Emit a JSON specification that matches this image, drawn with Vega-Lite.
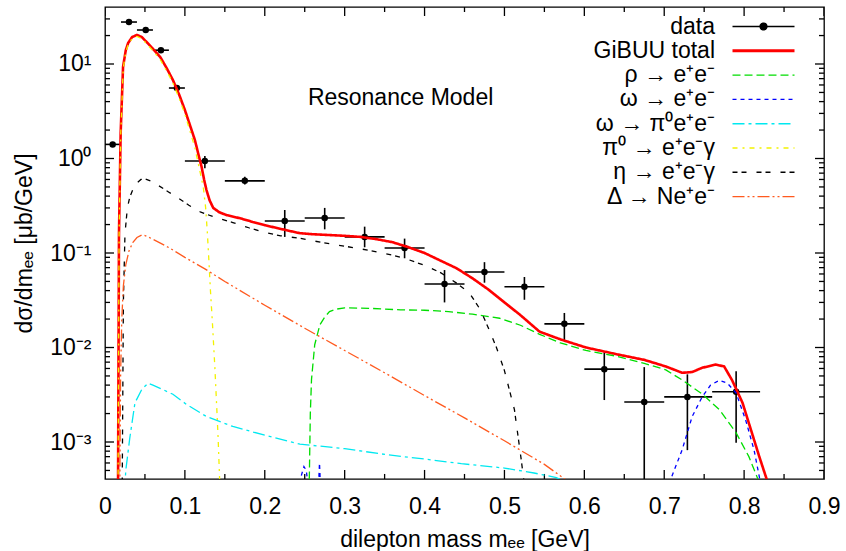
{
  "$schema": "https://vega.github.io/schema/vega-lite/v6.json",
  "width": 719,
  "height": 472,
  "autosize": "none",
  "padding": {"left": 105, "top": 7, "right": 22, "bottom": 72},
  "background": "white",
  "config": {
    "font": "Liberation Sans",
    "view": {"stroke": "black", "strokeWidth": 1.3},
    "axis": {"domain": false, "grid": false, "ticks": false, "labelColor": "black", "titleColor": "black", "labelFont": "Liberation Sans", "titleFont": "Liberation Sans", "labelFontSize": 23, "titleFontSize": 23, "titleFontWeight": "normal", "labelOverlap": false, "labelFlush": false, "labelBound": false}
  },
  "resolve": {"axis": {"x": "independent", "y": "independent"}},
  "datasets": {
    "xticks": [
      {"t": 0, "major": true}, {"t": 0.05, "major": false}, {"t": 0.1, "major": true}, {"t": 0.15, "major": false},
      {"t": 0.2, "major": true}, {"t": 0.25, "major": false}, {"t": 0.3, "major": true}, {"t": 0.35, "major": false},
      {"t": 0.4, "major": true}, {"t": 0.45, "major": false}, {"t": 0.5, "major": true}, {"t": 0.55, "major": false},
      {"t": 0.6, "major": true}, {"t": 0.65, "major": false}, {"t": 0.7, "major": true}, {"t": 0.75, "major": false},
      {"t": 0.8, "major": true}, {"t": 0.85, "major": false}, {"t": 0.9, "major": true}
    ],
    "yticks": [
      {"t": 0.0005, "major": false}, {"t": 0.0006, "major": false}, {"t": 0.0007, "major": false}, {"t": 0.0008, "major": false}, {"t": 0.0009, "major": false},
      {"t": 0.001, "major": true},
      {"t": 0.002, "major": false}, {"t": 0.003, "major": false}, {"t": 0.004, "major": false}, {"t": 0.005, "major": false}, {"t": 0.006, "major": false}, {"t": 0.007, "major": false}, {"t": 0.008, "major": false}, {"t": 0.009, "major": false},
      {"t": 0.01, "major": true},
      {"t": 0.02, "major": false}, {"t": 0.03, "major": false}, {"t": 0.04, "major": false}, {"t": 0.05, "major": false}, {"t": 0.06, "major": false}, {"t": 0.07, "major": false}, {"t": 0.08, "major": false}, {"t": 0.09, "major": false},
      {"t": 0.1, "major": true},
      {"t": 0.2, "major": false}, {"t": 0.3, "major": false}, {"t": 0.4, "major": false}, {"t": 0.5, "major": false}, {"t": 0.6, "major": false}, {"t": 0.7, "major": false}, {"t": 0.8, "major": false}, {"t": 0.9, "major": false},
      {"t": 1, "major": true},
      {"t": 2, "major": false}, {"t": 3, "major": false}, {"t": 4, "major": false}, {"t": 5, "major": false}, {"t": 6, "major": false}, {"t": 7, "major": false}, {"t": 8, "major": false}, {"t": 9, "major": false},
      {"t": 10, "major": true},
      {"t": 20, "major": false}, {"t": 30, "major": false}
    ],
    "lines": [
      {"series": "GiBUU total", "mass": 0.0163, "xsec": 0.0003},
      {"series": "GiBUU total", "mass": 0.0175, "xsec": 0.16},
      {"series": "GiBUU total", "mass": 0.0196, "xsec": 1.86},
      {"series": "GiBUU total", "mass": 0.0226, "xsec": 9.3},
      {"series": "GiBUU total", "mass": 0.026, "xsec": 14},
      {"series": "GiBUU total", "mass": 0.029, "xsec": 16.7},
      {"series": "GiBUU total", "mass": 0.034, "xsec": 19.3},
      {"series": "GiBUU total", "mass": 0.04, "xsec": 20.3},
      {"series": "GiBUU total", "mass": 0.046, "xsec": 19.3},
      {"series": "GiBUU total", "mass": 0.052, "xsec": 17.1},
      {"series": "GiBUU total", "mass": 0.06, "xsec": 14.5},
      {"series": "GiBUU total", "mass": 0.069, "xsec": 11.9},
      {"series": "GiBUU total", "mass": 0.077, "xsec": 9.1},
      {"series": "GiBUU total", "mass": 0.085, "xsec": 6.77},
      {"series": "GiBUU total", "mass": 0.093, "xsec": 4.7},
      {"series": "GiBUU total", "mass": 0.1, "xsec": 3.26},
      {"series": "GiBUU total", "mass": 0.106, "xsec": 2.3},
      {"series": "GiBUU total", "mass": 0.1125, "xsec": 1.57},
      {"series": "GiBUU total", "mass": 0.117, "xsec": 1.1},
      {"series": "GiBUU total", "mass": 0.121, "xsec": 0.81},
      {"series": "GiBUU total", "mass": 0.124, "xsec": 0.6},
      {"series": "GiBUU total", "mass": 0.127, "xsec": 0.464},
      {"series": "GiBUU total", "mass": 0.131, "xsec": 0.36},
      {"series": "GiBUU total", "mass": 0.1355, "xsec": 0.3},
      {"series": "GiBUU total", "mass": 0.143, "xsec": 0.27},
      {"series": "GiBUU total", "mass": 0.152, "xsec": 0.252},
      {"series": "GiBUU total", "mass": 0.17, "xsec": 0.232},
      {"series": "GiBUU total", "mass": 0.185, "xsec": 0.213},
      {"series": "GiBUU total", "mass": 0.2, "xsec": 0.197},
      {"series": "GiBUU total", "mass": 0.215, "xsec": 0.184},
      {"series": "GiBUU total", "mass": 0.23, "xsec": 0.172},
      {"series": "GiBUU total", "mass": 0.244, "xsec": 0.162},
      {"series": "GiBUU total", "mass": 0.26, "xsec": 0.158},
      {"series": "GiBUU total", "mass": 0.28, "xsec": 0.155},
      {"series": "GiBUU total", "mass": 0.3, "xsec": 0.152},
      {"series": "GiBUU total", "mass": 0.32, "xsec": 0.148},
      {"series": "GiBUU total", "mass": 0.34, "xsec": 0.14},
      {"series": "GiBUU total", "mass": 0.36, "xsec": 0.13},
      {"series": "GiBUU total", "mass": 0.38, "xsec": 0.115},
      {"series": "GiBUU total", "mass": 0.4, "xsec": 0.1},
      {"series": "GiBUU total", "mass": 0.42, "xsec": 0.083},
      {"series": "GiBUU total", "mass": 0.44, "xsec": 0.069},
      {"series": "GiBUU total", "mass": 0.46, "xsec": 0.054},
      {"series": "GiBUU total", "mass": 0.48, "xsec": 0.041},
      {"series": "GiBUU total", "mass": 0.5, "xsec": 0.03},
      {"series": "GiBUU total", "mass": 0.52, "xsec": 0.022},
      {"series": "GiBUU total", "mass": 0.544, "xsec": 0.0147},
      {"series": "GiBUU total", "mass": 0.57, "xsec": 0.0122},
      {"series": "GiBUU total", "mass": 0.602, "xsec": 0.01},
      {"series": "GiBUU total", "mass": 0.64, "xsec": 0.0085},
      {"series": "GiBUU total", "mass": 0.675, "xsec": 0.0074},
      {"series": "GiBUU total", "mass": 0.702, "xsec": 0.0063},
      {"series": "GiBUU total", "mass": 0.7225, "xsec": 0.0054},
      {"series": "GiBUU total", "mass": 0.735, "xsec": 0.0055},
      {"series": "GiBUU total", "mass": 0.7475, "xsec": 0.0061},
      {"series": "GiBUU total", "mass": 0.7645, "xsec": 0.0066},
      {"series": "GiBUU total", "mass": 0.775, "xsec": 0.0063},
      {"series": "GiBUU total", "mass": 0.785, "xsec": 0.0045},
      {"series": "GiBUU total", "mass": 0.798, "xsec": 0.0026},
      {"series": "GiBUU total", "mass": 0.81, "xsec": 0.00123},
      {"series": "GiBUU total", "mass": 0.819, "xsec": 0.0007},
      {"series": "GiBUU total", "mass": 0.828, "xsec": 0.00041},
      {"series": "GiBUU total", "mass": 0.832, "xsec": 0.0003},

      {"series": "ρ → e⁺e⁻", "mass": 0.2555, "xsec": 0.0003},
      {"series": "ρ → e⁺e⁻", "mass": 0.257, "xsec": 0.002},
      {"series": "ρ → e⁺e⁻", "mass": 0.2585, "xsec": 0.0046},
      {"series": "ρ → e⁺e⁻", "mass": 0.2625, "xsec": 0.0107},
      {"series": "ρ → e⁺e⁻", "mass": 0.269, "xsec": 0.0174},
      {"series": "ρ → e⁺e⁻", "mass": 0.275, "xsec": 0.021},
      {"series": "ρ → e⁺e⁻", "mass": 0.281, "xsec": 0.024},
      {"series": "ρ → e⁺e⁻", "mass": 0.29, "xsec": 0.0255},
      {"series": "ρ → e⁺e⁻", "mass": 0.3, "xsec": 0.0263},
      {"series": "ρ → e⁺e⁻", "mass": 0.33, "xsec": 0.026},
      {"series": "ρ → e⁺e⁻", "mass": 0.37, "xsec": 0.025},
      {"series": "ρ → e⁺e⁻", "mass": 0.4, "xsec": 0.0248},
      {"series": "ρ → e⁺e⁻", "mass": 0.43, "xsec": 0.024},
      {"series": "ρ → e⁺e⁻", "mass": 0.46, "xsec": 0.0225},
      {"series": "ρ → e⁺e⁻", "mass": 0.494, "xsec": 0.0204},
      {"series": "ρ → e⁺e⁻", "mass": 0.52, "xsec": 0.0172},
      {"series": "ρ → e⁺e⁻", "mass": 0.544, "xsec": 0.0138},
      {"series": "ρ → e⁺e⁻", "mass": 0.57, "xsec": 0.0112},
      {"series": "ρ → e⁺e⁻", "mass": 0.602, "xsec": 0.0093},
      {"series": "ρ → e⁺e⁻", "mass": 0.64, "xsec": 0.0081},
      {"series": "ρ → e⁺e⁻", "mass": 0.675, "xsec": 0.0068},
      {"series": "ρ → e⁺e⁻", "mass": 0.702, "xsec": 0.0058},
      {"series": "ρ → e⁺e⁻", "mass": 0.723, "xsec": 0.0045},
      {"series": "ρ → e⁺e⁻", "mass": 0.748, "xsec": 0.0032},
      {"series": "ρ → e⁺e⁻", "mass": 0.769, "xsec": 0.0022},
      {"series": "ρ → e⁺e⁻", "mass": 0.79, "xsec": 0.00125},
      {"series": "ρ → e⁺e⁻", "mass": 0.806, "xsec": 0.0007},
      {"series": "ρ → e⁺e⁻", "mass": 0.817, "xsec": 0.00041},
      {"series": "ρ → e⁺e⁻", "mass": 0.82, "xsec": 0.0003},

      {"series": "ω → e⁺e⁻", "mass": 0.243, "xsec": 0.0003},
      {"series": "ω → e⁺e⁻", "mass": 0.246, "xsec": 0.00045},
      {"series": "ω → e⁺e⁻", "mass": 0.249, "xsec": 0.00055},
      {"series": "ω → e⁺e⁻", "mass": 0.252, "xsec": 0.0005},
      {"series": "ω → e⁺e⁻", "mass": 0.255, "xsec": 0.0003},
      {"series": "ω → e⁺e⁻", "mass": 0.26, "xsec": 0.0001},
      {"series": "ω → e⁺e⁻", "mass": 0.265, "xsec": 0.0001},
      {"series": "ω → e⁺e⁻", "mass": 0.267, "xsec": 0.0003},
      {"series": "ω → e⁺e⁻", "mass": 0.2685, "xsec": 0.0006},
      {"series": "ω → e⁺e⁻", "mass": 0.27, "xsec": 0.0003},
      {"series": "ω → e⁺e⁻", "mass": 0.275, "xsec": 0.0001},
      {"series": "ω → e⁺e⁻", "mass": 0.7, "xsec": 0.0001},
      {"series": "ω → e⁺e⁻", "mass": 0.708, "xsec": 0.0004},
      {"series": "ω → e⁺e⁻", "mass": 0.7225, "xsec": 0.00083},
      {"series": "ω → e⁺e⁻", "mass": 0.735, "xsec": 0.00186},
      {"series": "ω → e⁺e⁻", "mass": 0.7475, "xsec": 0.003},
      {"series": "ω → e⁺e⁻", "mass": 0.758, "xsec": 0.004},
      {"series": "ω → e⁺e⁻", "mass": 0.769, "xsec": 0.0045},
      {"series": "ω → e⁺e⁻", "mass": 0.779, "xsec": 0.0042},
      {"series": "ω → e⁺e⁻", "mass": 0.79, "xsec": 0.0033},
      {"series": "ω → e⁺e⁻", "mass": 0.802, "xsec": 0.0017},
      {"series": "ω → e⁺e⁻", "mass": 0.8125, "xsec": 0.00082},
      {"series": "ω → e⁺e⁻", "mass": 0.819, "xsec": 0.00043},
      {"series": "ω → e⁺e⁻", "mass": 0.822, "xsec": 0.0003},

      {"series": "ω → π⁰e⁺e⁻", "mass": 0.0245, "xsec": 0.0003},
      {"series": "ω → π⁰e⁺e⁻", "mass": 0.026, "xsec": 0.0005},
      {"series": "ω → π⁰e⁺e⁻", "mass": 0.031, "xsec": 0.0011},
      {"series": "ω → π⁰e⁺e⁻", "mass": 0.0375, "xsec": 0.0026},
      {"series": "ω → π⁰e⁺e⁻", "mass": 0.046, "xsec": 0.0036},
      {"series": "ω → π⁰e⁺e⁻", "mass": 0.054, "xsec": 0.0042},
      {"series": "ω → π⁰e⁺e⁻", "mass": 0.06, "xsec": 0.004},
      {"series": "ω → π⁰e⁺e⁻", "mass": 0.069, "xsec": 0.0037},
      {"series": "ω → π⁰e⁺e⁻", "mass": 0.085, "xsec": 0.0032},
      {"series": "ω → π⁰e⁺e⁻", "mass": 0.102, "xsec": 0.0025},
      {"series": "ω → π⁰e⁺e⁻", "mass": 0.127, "xsec": 0.00186},
      {"series": "ω → π⁰e⁺e⁻", "mass": 0.16, "xsec": 0.00146},
      {"series": "ω → π⁰e⁺e⁻", "mass": 0.2, "xsec": 0.00118},
      {"series": "ω → π⁰e⁺e⁻", "mass": 0.244, "xsec": 0.00095},
      {"series": "ω → π⁰e⁺e⁻", "mass": 0.3, "xsec": 0.00085},
      {"series": "ω → π⁰e⁺e⁻", "mass": 0.355, "xsec": 0.00073},
      {"series": "ω → π⁰e⁺e⁻", "mass": 0.4, "xsec": 0.00066},
      {"series": "ω → π⁰e⁺e⁻", "mass": 0.446, "xsec": 0.00059},
      {"series": "ω → π⁰e⁺e⁻", "mass": 0.5, "xsec": 0.00053},
      {"series": "ω → π⁰e⁺e⁻", "mass": 0.537, "xsec": 0.00047},
      {"series": "ω → π⁰e⁺e⁻", "mass": 0.565, "xsec": 0.00042},
      {"series": "ω → π⁰e⁺e⁻", "mass": 0.585, "xsec": 0.00035},

      {"series": "π⁰ → e⁺e⁻γ", "mass": 0.0163, "xsec": 0.0003},
      {"series": "π⁰ → e⁺e⁻γ", "mass": 0.0176, "xsec": 0.15},
      {"series": "π⁰ → e⁺e⁻γ", "mass": 0.0197, "xsec": 1.8},
      {"series": "π⁰ → e⁺e⁻γ", "mass": 0.0228, "xsec": 9},
      {"series": "π⁰ → e⁺e⁻γ", "mass": 0.026, "xsec": 13.3},
      {"series": "π⁰ → e⁺e⁻γ", "mass": 0.029, "xsec": 16},
      {"series": "π⁰ → e⁺e⁻γ", "mass": 0.034, "xsec": 18.6},
      {"series": "π⁰ → e⁺e⁻γ", "mass": 0.04, "xsec": 19.6},
      {"series": "π⁰ → e⁺e⁻γ", "mass": 0.046, "xsec": 18.6},
      {"series": "π⁰ → e⁺e⁻γ", "mass": 0.052, "xsec": 16.4},
      {"series": "π⁰ → e⁺e⁻γ", "mass": 0.06, "xsec": 13.8},
      {"series": "π⁰ → e⁺e⁻γ", "mass": 0.069, "xsec": 11.2},
      {"series": "π⁰ → e⁺e⁻γ", "mass": 0.077, "xsec": 8.5},
      {"series": "π⁰ → e⁺e⁻γ", "mass": 0.085, "xsec": 6.3},
      {"series": "π⁰ → e⁺e⁻γ", "mass": 0.093, "xsec": 4.3},
      {"series": "π⁰ → e⁺e⁻γ", "mass": 0.1, "xsec": 2.95},
      {"series": "π⁰ → e⁺e⁻γ", "mass": 0.106, "xsec": 2.0},
      {"series": "π⁰ → e⁺e⁻γ", "mass": 0.1125, "xsec": 1.3},
      {"series": "π⁰ → e⁺e⁻γ", "mass": 0.119, "xsec": 0.72},
      {"series": "π⁰ → e⁺e⁻γ", "mass": 0.123, "xsec": 0.5},
      {"series": "π⁰ → e⁺e⁻γ", "mass": 0.126, "xsec": 0.3},
      {"series": "π⁰ → e⁺e⁻γ", "mass": 0.128, "xsec": 0.17},
      {"series": "π⁰ → e⁺e⁻γ", "mass": 0.13, "xsec": 0.085},
      {"series": "π⁰ → e⁺e⁻γ", "mass": 0.132, "xsec": 0.04},
      {"series": "π⁰ → e⁺e⁻γ", "mass": 0.1345, "xsec": 0.018},
      {"series": "π⁰ → e⁺e⁻γ", "mass": 0.1375, "xsec": 0.0062},
      {"series": "π⁰ → e⁺e⁻γ", "mass": 0.14, "xsec": 0.0022},
      {"series": "π⁰ → e⁺e⁻γ", "mass": 0.1416, "xsec": 0.0011},
      {"series": "π⁰ → e⁺e⁻γ", "mass": 0.1435, "xsec": 0.0004},
      {"series": "π⁰ → e⁺e⁻γ", "mass": 0.145, "xsec": 0.0002},

      {"series": "η → e⁺e⁻γ", "mass": 0.0215, "xsec": 0.0003},
      {"series": "η → e⁺e⁻γ", "mass": 0.023, "xsec": 0.03},
      {"series": "η → e⁺e⁻γ", "mass": 0.025, "xsec": 0.16},
      {"series": "η → e⁺e⁻γ", "mass": 0.028, "xsec": 0.3},
      {"series": "η → e⁺e⁻γ", "mass": 0.031, "xsec": 0.39},
      {"series": "η → e⁺e⁻γ", "mass": 0.0375, "xsec": 0.53},
      {"series": "η → e⁺e⁻γ", "mass": 0.045, "xsec": 0.6},
      {"series": "η → e⁺e⁻γ", "mass": 0.05, "xsec": 0.61},
      {"series": "η → e⁺e⁻γ", "mass": 0.057, "xsec": 0.58},
      {"series": "η → e⁺e⁻γ", "mass": 0.065, "xsec": 0.53},
      {"series": "η → e⁺e⁻γ", "mass": 0.08, "xsec": 0.44},
      {"series": "η → e⁺e⁻γ", "mass": 0.09, "xsec": 0.39},
      {"series": "η → e⁺e⁻γ", "mass": 0.105, "xsec": 0.32},
      {"series": "η → e⁺e⁻γ", "mass": 0.12, "xsec": 0.27},
      {"series": "η → e⁺e⁻γ", "mass": 0.14, "xsec": 0.235},
      {"series": "η → e⁺e⁻γ", "mass": 0.16, "xsec": 0.21},
      {"series": "η → e⁺e⁻γ", "mass": 0.18, "xsec": 0.185},
      {"series": "η → e⁺e⁻γ", "mass": 0.2, "xsec": 0.165},
      {"series": "η → e⁺e⁻γ", "mass": 0.22, "xsec": 0.152},
      {"series": "η → e⁺e⁻γ", "mass": 0.244, "xsec": 0.143},
      {"series": "η → e⁺e⁻γ", "mass": 0.27, "xsec": 0.13},
      {"series": "η → e⁺e⁻γ", "mass": 0.3, "xsec": 0.118},
      {"series": "η → e⁺e⁻γ", "mass": 0.33, "xsec": 0.107},
      {"series": "η → e⁺e⁻γ", "mass": 0.36, "xsec": 0.095},
      {"series": "η → e⁺e⁻γ", "mass": 0.38, "xsec": 0.085},
      {"series": "η → e⁺e⁻γ", "mass": 0.4, "xsec": 0.074},
      {"series": "η → e⁺e⁻γ", "mass": 0.42, "xsec": 0.062},
      {"series": "η → e⁺e⁻γ", "mass": 0.44, "xsec": 0.048},
      {"series": "η → e⁺e⁻γ", "mass": 0.456, "xsec": 0.038},
      {"series": "η → e⁺e⁻γ", "mass": 0.47, "xsec": 0.025},
      {"series": "η → e⁺e⁻γ", "mass": 0.481, "xsec": 0.0153},
      {"series": "η → e⁺e⁻γ", "mass": 0.49, "xsec": 0.01},
      {"series": "η → e⁺e⁻γ", "mass": 0.5, "xsec": 0.0057},
      {"series": "η → e⁺e⁻γ", "mass": 0.5125, "xsec": 0.0022},
      {"series": "η → e⁺e⁻γ", "mass": 0.521, "xsec": 0.00065},
      {"series": "η → e⁺e⁻γ", "mass": 0.526, "xsec": 0.0003},

      {"series": "Δ → Ne⁺e⁻", "mass": 0.0185, "xsec": 0.0003},
      {"series": "Δ → Ne⁺e⁻", "mass": 0.0195, "xsec": 0.005},
      {"series": "Δ → Ne⁺e⁻", "mass": 0.021, "xsec": 0.02},
      {"series": "Δ → Ne⁺e⁻", "mass": 0.023, "xsec": 0.045},
      {"series": "Δ → Ne⁺e⁻", "mass": 0.026, "xsec": 0.075},
      {"series": "Δ → Ne⁺e⁻", "mass": 0.03, "xsec": 0.105},
      {"series": "Δ → Ne⁺e⁻", "mass": 0.035, "xsec": 0.13},
      {"series": "Δ → Ne⁺e⁻", "mass": 0.04, "xsec": 0.146},
      {"series": "Δ → Ne⁺e⁻", "mass": 0.046, "xsec": 0.155},
      {"series": "Δ → Ne⁺e⁻", "mass": 0.05, "xsec": 0.153},
      {"series": "Δ → Ne⁺e⁻", "mass": 0.06, "xsec": 0.14},
      {"series": "Δ → Ne⁺e⁻", "mass": 0.08, "xsec": 0.114},
      {"series": "Δ → Ne⁺e⁻", "mass": 0.1, "xsec": 0.09},
      {"series": "Δ → Ne⁺e⁻", "mass": 0.125, "xsec": 0.068},
      {"series": "Δ → Ne⁺e⁻", "mass": 0.15, "xsec": 0.05},
      {"series": "Δ → Ne⁺e⁻", "mass": 0.2, "xsec": 0.028},
      {"series": "Δ → Ne⁺e⁻", "mass": 0.25, "xsec": 0.016},
      {"series": "Δ → Ne⁺e⁻", "mass": 0.3, "xsec": 0.0093},
      {"series": "Δ → Ne⁺e⁻", "mass": 0.35, "xsec": 0.0054},
      {"series": "Δ → Ne⁺e⁻", "mass": 0.4, "xsec": 0.0031},
      {"series": "Δ → Ne⁺e⁻", "mass": 0.45, "xsec": 0.0018},
      {"series": "Δ → Ne⁺e⁻", "mass": 0.5, "xsec": 0.00103},
      {"series": "Δ → Ne⁺e⁻", "mass": 0.55, "xsec": 0.00058},
      {"series": "Δ → Ne⁺e⁻", "mass": 0.58, "xsec": 0.00038}
    ],
    "pts": [
      {"mass": 0.0096, "xlo": 0, "xhi": 0.02, "xsec": 1.41, "lo": 1.36, "hi": 1.46},
      {"mass": 0.03, "xlo": 0.02, "xhi": 0.04, "xsec": 27.8, "lo": 26.9, "hi": 28.7},
      {"mass": 0.051, "xlo": 0.04, "xhi": 0.06, "xsec": 22.9, "lo": 22.2, "hi": 23.6},
      {"mass": 0.07, "xlo": 0.06, "xhi": 0.08, "xsec": 14.0, "lo": 13.6, "hi": 14.4},
      {"mass": 0.09, "xlo": 0.08, "xhi": 0.1, "xsec": 5.57, "lo": 5.4, "hi": 5.75},
      {"mass": 0.125, "xlo": 0.1, "xhi": 0.15, "xsec": 0.94, "lo": 0.79, "hi": 1.06},
      {"mass": 0.175, "xlo": 0.15, "xhi": 0.2, "xsec": 0.58, "lo": 0.53, "hi": 0.64},
      {"mass": 0.225, "xlo": 0.2, "xhi": 0.25, "xsec": 0.218, "lo": 0.148, "hi": 0.285},
      {"mass": 0.275, "xlo": 0.25, "xhi": 0.3, "xsec": 0.235, "lo": 0.178, "hi": 0.3},
      {"mass": 0.325, "xlo": 0.3, "xhi": 0.35, "xsec": 0.148, "lo": 0.115, "hi": 0.19},
      {"mass": 0.375, "xlo": 0.35, "xhi": 0.4, "xsec": 0.113, "lo": 0.088, "hi": 0.142},
      {"mass": 0.425, "xlo": 0.4, "xhi": 0.45, "xsec": 0.047, "lo": 0.03, "hi": 0.066},
      {"mass": 0.475, "xlo": 0.45, "xhi": 0.5, "xsec": 0.063, "lo": 0.0485, "hi": 0.08},
      {"mass": 0.525, "xlo": 0.5, "xhi": 0.55, "xsec": 0.044, "lo": 0.032, "hi": 0.0557},
      {"mass": 0.575, "xlo": 0.55, "xhi": 0.6, "xsec": 0.0178, "lo": 0.012, "hi": 0.0232},
      {"mass": 0.625, "xlo": 0.6, "xhi": 0.65, "xsec": 0.0059, "lo": 0.00278, "hi": 0.0089},
      {"mass": 0.675, "xlo": 0.65, "xhi": 0.7, "xsec": 0.00265, "lo": 0.0001, "hi": 0.0062},
      {"mass": 0.729, "xlo": 0.7, "xhi": 0.76, "xsec": 0.003, "lo": 0.00082, "hi": 0.0052},
      {"mass": 0.79, "xlo": 0.76, "xhi": 0.82, "xsec": 0.0034, "lo": 0.00098, "hi": 0.0056}
    ]
  },
  "layer": [
    {
      "data": {"name": "xticks"},
      "transform": [{"filter": "datum.major"}],
      "mark": {"type": "rule", "color": "black", "strokeWidth": 1.3, "clip": true},
      "encoding": {
        "x": {"field": "t", "type": "quantitative", "scale": {"domain": [0, 0.9], "nice": false, "zero": false}, "axis": null},
        "y": {"datum": 0.000406, "type": "quantitative", "scale": {"type": "log", "domain": [0.000406, 40.1], "nice": false}, "axis": null},
        "y2": {"datum": 0.000506}
      }
    },
    {
      "data": {"name": "xticks"},
      "transform": [{"filter": "!datum.major"}],
      "mark": {"type": "rule", "color": "black", "strokeWidth": 1.3, "clip": true},
      "encoding": {
        "x": {"field": "t", "type": "quantitative", "scale": {"domain": [0, 0.9], "nice": false, "zero": false}, "axis": null},
        "y": {"datum": 0.000406, "type": "quantitative", "scale": {"type": "log", "domain": [0.000406, 40.1], "nice": false}, "axis": null},
        "y2": {"datum": 0.000459}
      }
    },
    {
      "data": {"name": "xticks"},
      "transform": [{"filter": "datum.major"}],
      "mark": {"type": "rule", "color": "black", "strokeWidth": 1.3, "clip": true},
      "encoding": {
        "x": {"field": "t", "type": "quantitative", "scale": {"domain": [0, 0.9], "nice": false, "zero": false}, "axis": null},
        "y": {"datum": 40.1, "type": "quantitative", "scale": {"type": "log", "domain": [0.000406, 40.1], "nice": false}, "axis": null},
        "y2": {"datum": 32.2}
      }
    },
    {
      "data": {"name": "xticks"},
      "transform": [{"filter": "!datum.major"}],
      "mark": {"type": "rule", "color": "black", "strokeWidth": 1.3, "clip": true},
      "encoding": {
        "x": {"field": "t", "type": "quantitative", "scale": {"domain": [0, 0.9], "nice": false, "zero": false}, "axis": null},
        "y": {"datum": 40.1, "type": "quantitative", "scale": {"type": "log", "domain": [0.000406, 40.1], "nice": false}, "axis": null},
        "y2": {"datum": 35.5}
      }
    },
    {
      "data": {"name": "yticks"},
      "transform": [{"filter": "datum.major"}],
      "mark": {"type": "rule", "color": "black", "strokeWidth": 1.3, "clip": true},
      "encoding": {
        "y": {"field": "t", "type": "quantitative", "scale": {"type": "log", "domain": [0.000406, 40.1], "nice": false}, "axis": null},
        "x": {"datum": 0, "type": "quantitative", "scale": {"domain": [0, 0.9], "nice": false, "zero": false}, "axis": null},
        "x2": {"datum": 0.01127}
      }
    },
    {
      "data": {"name": "yticks"},
      "transform": [{"filter": "!datum.major"}],
      "mark": {"type": "rule", "color": "black", "strokeWidth": 1.3, "clip": true},
      "encoding": {
        "y": {"field": "t", "type": "quantitative", "scale": {"type": "log", "domain": [0.000406, 40.1], "nice": false}, "axis": null},
        "x": {"datum": 0, "type": "quantitative", "scale": {"domain": [0, 0.9], "nice": false, "zero": false}, "axis": null},
        "x2": {"datum": 0.00626}
      }
    },
    {
      "data": {"name": "yticks"},
      "transform": [{"filter": "datum.major"}],
      "mark": {"type": "rule", "color": "black", "strokeWidth": 1.3, "clip": true},
      "encoding": {
        "y": {"field": "t", "type": "quantitative", "scale": {"type": "log", "domain": [0.000406, 40.1], "nice": false}, "axis": null},
        "x": {"datum": 0.9, "type": "quantitative", "scale": {"domain": [0, 0.9], "nice": false, "zero": false}, "axis": null},
        "x2": {"datum": 0.88873}
      }
    },
    {
      "data": {"name": "yticks"},
      "transform": [{"filter": "!datum.major"}],
      "mark": {"type": "rule", "color": "black", "strokeWidth": 1.3, "clip": true},
      "encoding": {
        "y": {"field": "t", "type": "quantitative", "scale": {"type": "log", "domain": [0.000406, 40.1], "nice": false}, "axis": null},
        "x": {"datum": 0.9, "type": "quantitative", "scale": {"domain": [0, 0.9], "nice": false, "zero": false}, "axis": null},
        "x2": {"datum": 0.89374}
      }
    },
    {
      "data": {"name": "pts"},
      "mark": {"type": "rule", "color": "black", "strokeWidth": 1.6, "clip": true},
      "encoding": {
        "x": {"field": "mass", "type": "quantitative", "scale": {"domain": [0, 0.9], "nice": false, "zero": false}, "axis": null},
        "y": {"field": "lo", "type": "quantitative", "scale": {"type": "log", "domain": [0.000406, 40.1], "nice": false}, "axis": null},
        "y2": {"field": "hi"}
      }
    },
    {
      "data": {"name": "pts"},
      "mark": {"type": "rule", "color": "black", "strokeWidth": 1.6, "clip": true},
      "encoding": {
        "x": {"field": "xlo", "type": "quantitative", "scale": {"domain": [0, 0.9], "nice": false, "zero": false}, "axis": null},
        "x2": {"field": "xhi"},
        "y": {"field": "xsec", "type": "quantitative", "scale": {"type": "log", "domain": [0.000406, 40.1], "nice": false}, "axis": null}
      }
    },
    {
      "data": {"name": "pts"},
      "mark": {"type": "point", "filled": true, "color": "black", "size": 42, "opacity": 1},
      "encoding": {
        "x": {"field": "mass", "type": "quantitative", "scale": {"domain": [0, 0.9], "nice": false, "zero": false}, "axis": null},
        "y": {"field": "xsec", "type": "quantitative", "scale": {"type": "log", "domain": [0.000406, 40.1], "nice": false}, "axis": null}
      }
    },
    {
      "data": {"name": "lines"},
      "transform": [{"filter": "datum.series === 'GiBUU total'"}],
      "mark": {"type": "line", "strokeWidth": 2.6, "clip": true},
      "encoding": {
        "x": {"field": "mass", "type": "quantitative", "scale": {"domain": [0, 0.9], "nice": false, "zero": false},
          "axis": {"orient": "bottom", "values": [0, 0.1, 0.2, 0.3, 0.4, 0.5, 0.6, 0.7, 0.8, 0.9], "labelPadding": 16, "labelExpr": "datum.value == 0 ? '0' : format(datum.value, '.1f')", "title": "dilepton mass mₑₑ [GeV]", "titlePadding": 10}},
        "y": {"field": "xsec", "type": "quantitative", "scale": {"type": "log", "domain": [0.000406, 40.1], "nice": false},
          "axis": {"orient": "left", "values": [0.001, 0.01, 0.1, 1, 10], "labelPadding": 14, "labelExpr": "datum.value > 5 ? '10¹' : datum.value > 0.5 ? '10⁰' : datum.value > 0.05 ? '10⁻¹' : datum.value > 0.005 ? '10⁻²' : '10⁻³'", "title": "dσ/dmₑₑ [μb/GeV]", "titlePadding": 13}},
        "color": {"field": "series", "type": "nominal",
          "scale": {"domain": ["data", "GiBUU total", "ρ → e⁺e⁻", "ω → e⁺e⁻", "ω → π⁰e⁺e⁻", "π⁰ → e⁺e⁻γ", "η → e⁺e⁻γ", "Δ → Ne⁺e⁻"],
                    "range": ["#000000", "#ff0000", "#00dd00", "#0000ff", "#00e8f0", "#f2f200", "#000000", "#ff5a1f"]},
          "legend": {"orient": "none", "legendX": 647, "legendY": 8, "title": null, "padding": 0, "symbolType": "stroke", "symbolSize": 3844, "labelFontSize": 23, "labelFont": "Liberation Sans", "labelColor": "black", "labelAlign": "right", "labelOffset": -60, "labelLimit": 500, "rowPadding": 0.3,
            "encode": {"symbols": {"update": {
              "shape": {"signal": "datum.value === 'data' ? 'M-1,0H1M0.11,0A0.11,0.11,0,1,1,-0.11,0A0.11,0.11,0,1,1,0.11,0Z' : 'stroke'"},
              "fill": {"signal": "datum.value === 'data' ? 'black' : 'transparent'"},
              "strokeWidth": {"signal": "datum.value === 'GiBUU total' ? 3 : 1.4"}
            }}}}},
        "strokeDash": {"field": "series", "type": "nominal",
          "scale": {"domain": ["data", "GiBUU total", "ρ → e⁺e⁻", "ω → e⁺e⁻", "ω → π⁰e⁺e⁻", "π⁰ → e⁺e⁻γ", "η → e⁺e⁻γ", "Δ → Ne⁺e⁻"],
                    "range": [[1, 0], [1, 0], [8, 4], [4, 4], [12, 4, 3, 4], [5, 5, 2, 5], [5, 4, 5, 10], [12, 3, 2, 3, 2, 3]]}}
      }
    },
    {
      "data": {"name": "lines"},
      "transform": [{"filter": "datum.series !== 'GiBUU total'"}],
      "mark": {"type": "line", "strokeWidth": 1.3, "clip": true},
      "encoding": {
        "x": {"field": "mass", "type": "quantitative", "scale": {"domain": [0, 0.9], "nice": false, "zero": false}, "axis": null},
        "y": {"field": "xsec", "type": "quantitative", "scale": {"type": "log", "domain": [0.000406, 40.1], "nice": false}, "axis": null},
        "color": {"field": "series", "type": "nominal",
          "scale": {"domain": ["data", "GiBUU total", "ρ → e⁺e⁻", "ω → e⁺e⁻", "ω → π⁰e⁺e⁻", "π⁰ → e⁺e⁻γ", "η → e⁺e⁻γ", "Δ → Ne⁺e⁻"],
                    "range": ["#000000", "#ff0000", "#00dd00", "#0000ff", "#00e8f0", "#f2f200", "#000000", "#ff5a1f"]}},
        "strokeDash": {"field": "series", "type": "nominal",
          "scale": {"domain": ["data", "GiBUU total", "ρ → e⁺e⁻", "ω → e⁺e⁻", "ω → π⁰e⁺e⁻", "π⁰ → e⁺e⁻γ", "η → e⁺e⁻γ", "Δ → Ne⁺e⁻"],
                    "range": [[1, 0], [1, 0], [8, 4], [4, 4], [12, 4, 3, 4], [5, 5, 2, 5], [5, 4, 5, 10], [12, 3, 2, 3, 2, 3]]}}
      }
    },
    {
      "data": {"values": [{"label": "Resonance Model"}]},
      "mark": {"type": "text", "font": "Liberation Sans", "fontSize": 23, "color": "black", "align": "center", "baseline": "middle"},
      "encoding": {
        "text": {"field": "label"},
        "x": {"datum": 0.37, "type": "quantitative", "scale": {"domain": [0, 0.9], "nice": false, "zero": false}, "axis": null},
        "y": {"datum": 4.37, "type": "quantitative", "scale": {"type": "log", "domain": [0.000406, 40.1], "nice": false}, "axis": null}
      }
    }
  ]
}
